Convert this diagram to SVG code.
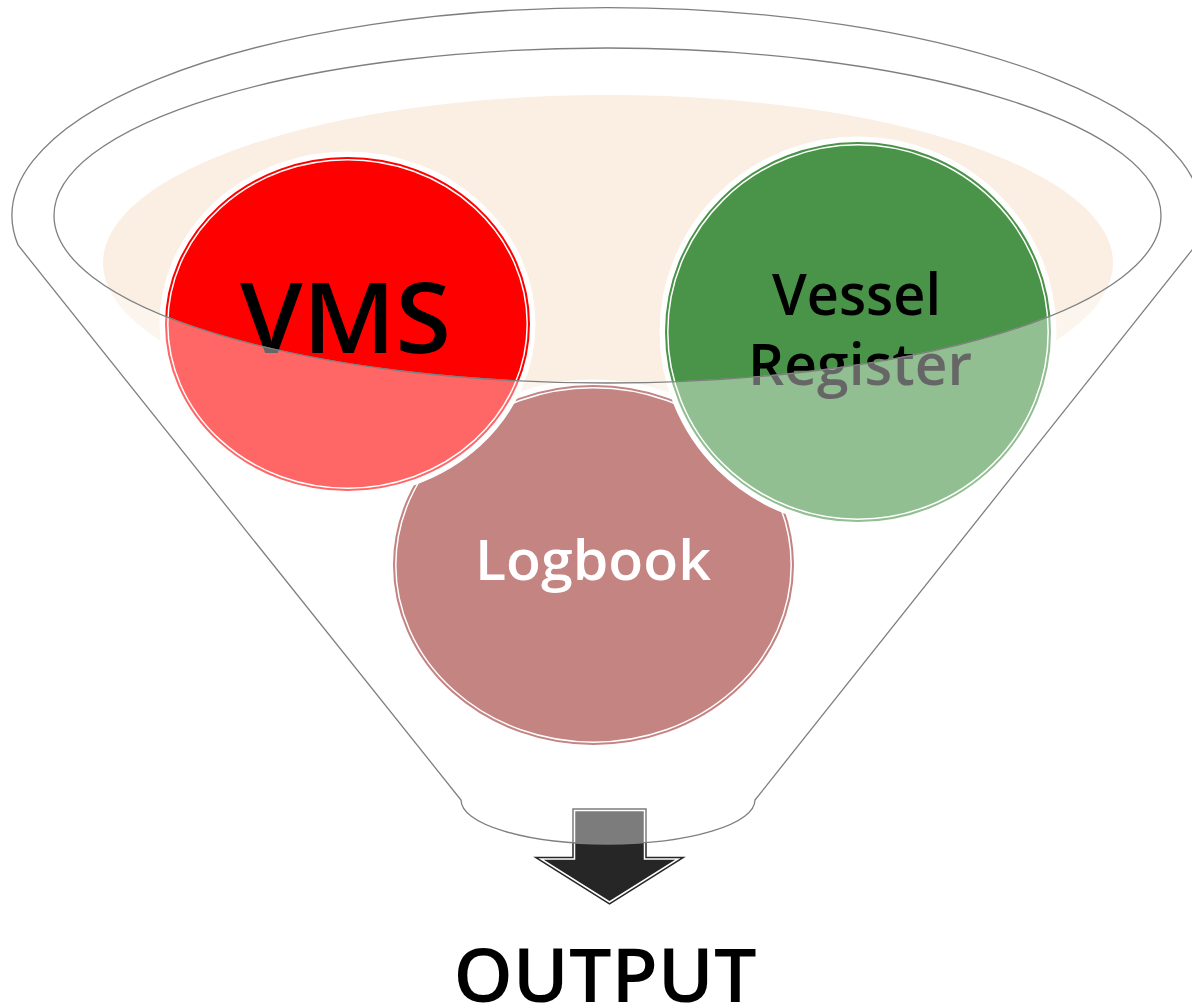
<svg xmlns="http://www.w3.org/2000/svg" width="1192" height="1008" viewBox="0 0 1192 1008">
<defs>
<style>
.ln{fill:none;stroke:#7f7f7f;stroke-width:1.3}
.halo{fill:#ffffff;stroke:#ffffff;stroke-width:8}
.ring{fill:none;stroke:#ffffff;stroke-width:1.5}
.t{font-family:"Open Sans","Noto Sans","DejaVu Sans",sans-serif;font-weight:600;text-anchor:middle}
</style>
</defs>
<rect width="1192" height="1008" fill="#ffffff"/>
<g id="funnel-back">
<ellipse cx="608" cy="263" rx="505" ry="168" fill="#FBEEE2"/>
</g>
<g id="arrow">
<path d="M 574.5 810.5 H 644.5 V 859 H 678 L 609.5 902 L 541 859 H 574.5 Z" fill="#262626" stroke="#262626" stroke-width="4.5" stroke-linejoin="miter"/>
<path d="M 574.5 810.5 H 644.5 V 859 H 678 L 609.5 902 L 541 859 H 574.5 Z" fill="none" stroke="#ffffff" stroke-width="1.5"/>
</g>
<g id="node-logbook">
<ellipse class="halo" cx="593.5" cy="565" rx="202" ry="181.5"/>
<ellipse cx="593.5" cy="565" rx="199.5" ry="179" fill="#9D322F" stroke="#9D322F" stroke-width="2"/>
<ellipse class="ring" cx="593.5" cy="565" rx="197.7" ry="177.2"/>
<text class="t" x="593" y="580" font-size="56" fill="#ffffff" textLength="236" lengthAdjust="spacingAndGlyphs">Logbook</text>
</g>
<g id="node-vms">
<ellipse class="halo" cx="347.5" cy="324" rx="184" ry="168.5"/>
<ellipse cx="347.5" cy="324" rx="181.5" ry="166" fill="#FF0000" stroke="#FF0000" stroke-width="2"/>
<ellipse class="ring" cx="347.5" cy="324" rx="179.7" ry="164.2"/>
<text class="t" x="345.5" y="353.3" font-size="98" fill="#000000" textLength="211" lengthAdjust="spacingAndGlyphs">VMS</text>
</g>
<g id="node-vessel-register">
<ellipse class="halo" cx="858" cy="332" rx="194.5" ry="191.5"/>
<ellipse cx="858" cy="332" rx="192" ry="189" fill="#4A9449" stroke="#4A9449" stroke-width="2"/>
<ellipse class="ring" cx="858" cy="332" rx="190.2" ry="187.2"/>
<text class="t" x="856.5" y="315" font-size="58" fill="#000000" textLength="169" lengthAdjust="spacingAndGlyphs">Vessel</text>
<text class="t" x="860" y="385" font-size="58" fill="#000000" textLength="224" lengthAdjust="spacingAndGlyphs">Register</text>
</g>
<g id="funnel-front">
<path d="M 18 245 L 461 800 A 147 44 0 0 0 755 800 L 1196 245 L 1161 215 A 553.5 167.5 0 0 1 54 215 Z" fill="#ffffff" fill-opacity="0.4"/>
</g>
<g id="connectors">
<path class="ln" d="M 18 245 A 595 208 0 1 1 1196 245 L 755 800 A 147 44 0 0 1 461 800 Z"/>
<ellipse class="ln" cx="607.5" cy="215.5" rx="553.5" ry="167.5"/>
</g>
<g id="label-output">
<text class="t" x="605" y="1002" font-size="74" fill="#000000" textLength="303" lengthAdjust="spacingAndGlyphs">OUTPUT</text>
</g>
</svg>
